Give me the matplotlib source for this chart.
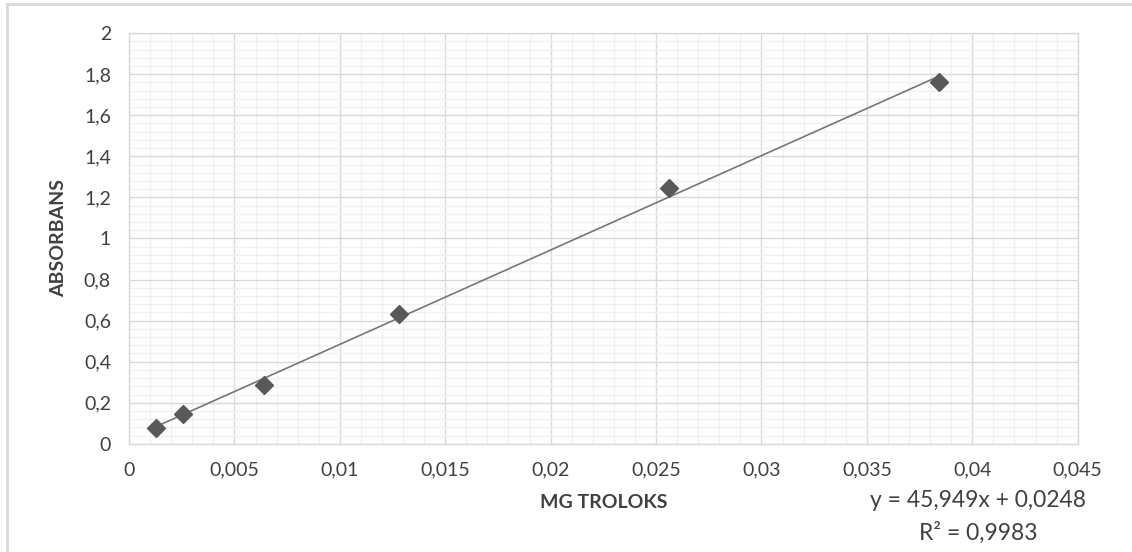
import numpy as np
import matplotlib.pyplot as plt
from matplotlib.lines import Line2D
from matplotlib.ticker import MultipleLocator, FuncFormatter

# data
mg_troloks = [0.00128, 0.00256, 0.0064, 0.0128, 0.0256, 0.0384]
absorbans = [0.078, 0.146, 0.288, 0.632, 1.245, 1.762]
slope = 45.949
intercept = 0.0248
r2_text = "0,9983"

plt.rcParams['font.family'] = ['Lato', 'DejaVu Sans']

fig = plt.figure(figsize=(11.32, 5.52), dpi=100)
ax = fig.add_axes([0.114, 0.196, 0.838, 0.744])

# trendline over the data range
xs = np.array([min(mg_troloks), max(mg_troloks)])
ax.plot(xs, slope * xs + intercept, color='#767676', lw=1.2, zorder=3)
ax.plot(mg_troloks, absorbans, linestyle='none', marker='D', markersize=9.5,
        color='#595959', zorder=4)

ax.set_xlim(0, 0.045)
ax.set_ylim(0, 2)
ax.xaxis.set_major_locator(MultipleLocator(0.005))
ax.xaxis.set_minor_locator(MultipleLocator(0.001))
ax.yaxis.set_major_locator(MultipleLocator(0.2))
ax.yaxis.set_minor_locator(MultipleLocator(0.04))

def comma(v, pos):
    s = f"{v:.3f}".rstrip('0').rstrip('.')
    return s.replace('.', ',')

ax.xaxis.set_major_formatter(FuncFormatter(comma))
ax.yaxis.set_major_formatter(FuncFormatter(comma))

ax.grid(which='major', color='#d9d9d9', lw=1.0)
ax.grid(which='minor', color='#f0f0f0', lw=1.0)
ax.set_axisbelow(True)
for s in ax.spines.values():
    s.set_color('#d9d9d9')
    s.set_linewidth(1.0)
ax.tick_params(which='both', length=0, labelsize=14, colors='#404040')
ax.tick_params(axis='x', pad=13)
ax.tick_params(axis='y', pad=13)

ax.set_xlabel('MG TROLOKS', fontsize=14, fontweight='bold', color='#404040', labelpad=11)
ax.set_ylabel('ABSORBANS', fontsize=14, fontweight='bold', color='#404040', labelpad=12)

fig.text(0.864, 0.094, "y = 45,949x + 0,0248", ha='center', va='center',
         fontsize=16.5, color='#404040')
fig.text(0.864, 0.034, "R² = " + r2_text, ha='center', va='center',
         fontsize=16.5, color='#404040')

# frame of the cropped chart
fig.add_artist(Line2D([0.006, 1.0], [0.993, 0.993], color='#d9d9d9', lw=2.0))
fig.add_artist(Line2D([0.006, 0.006], [0.0, 0.993], color='#d9d9d9', lw=2.0))

fig.savefig('out.png', dpi=100, facecolor='white')
